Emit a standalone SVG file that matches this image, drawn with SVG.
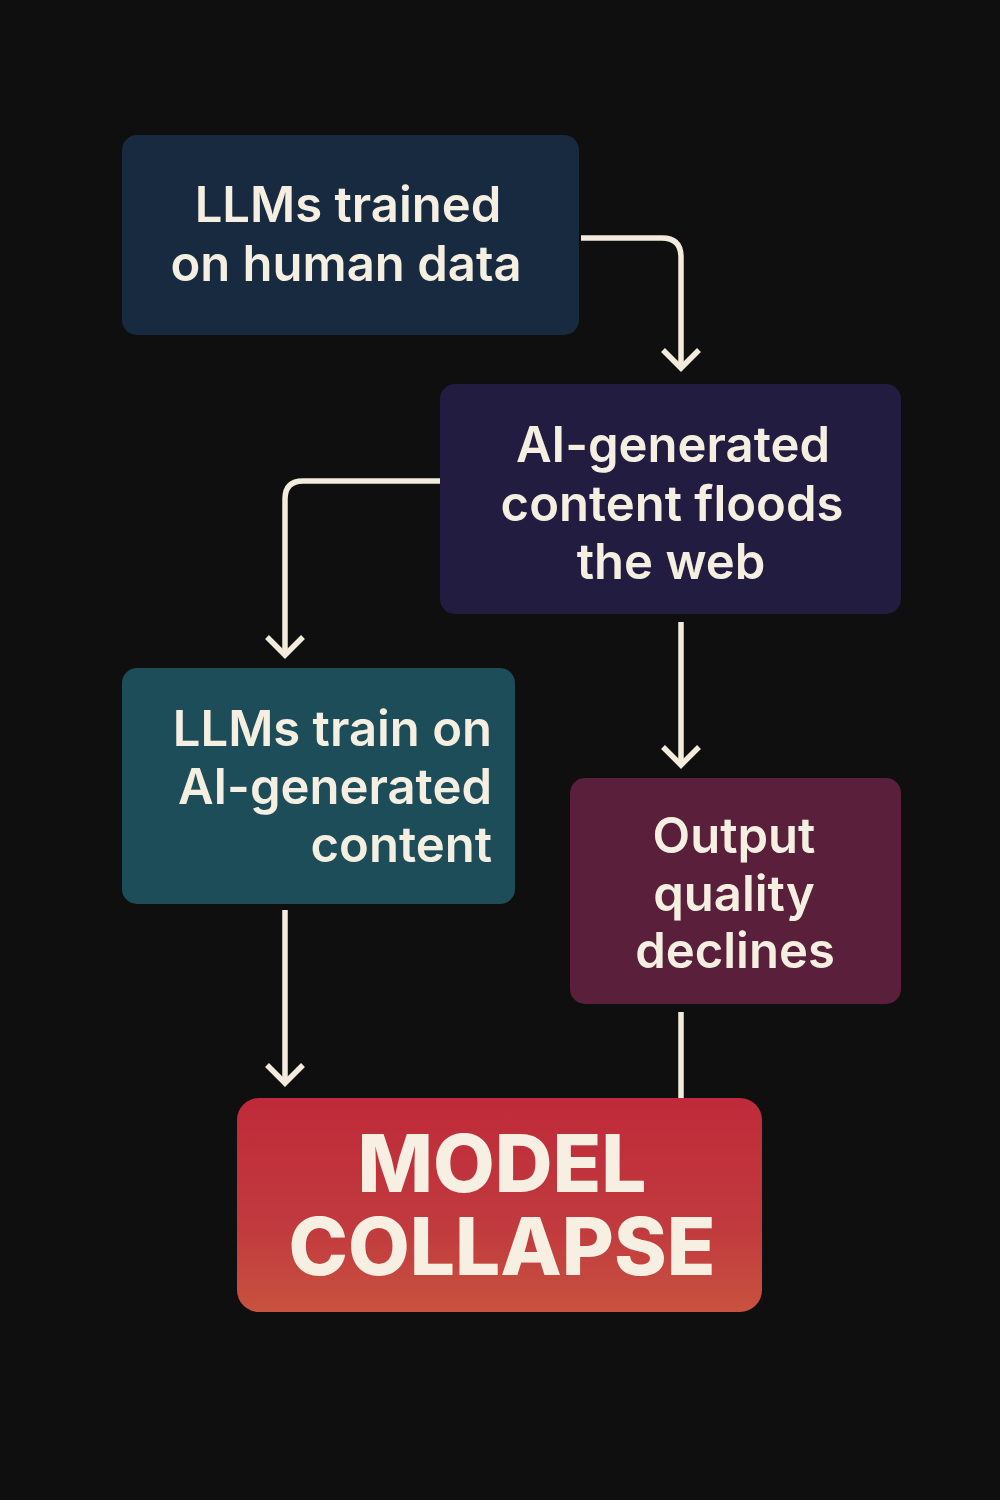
<svg xmlns="http://www.w3.org/2000/svg" width="1000" height="1500" viewBox="0 0 1000 1500">
<defs>
<linearGradient id="red" x1="0" y1="0" x2="0" y2="1">
<stop offset="0" stop-color="#bf2a3a"/>
<stop offset="0.6" stop-color="#c13a3e"/>
<stop offset="1" stop-color="#c8523f"/>
</linearGradient>
<style>
.t{font-family:Inter,"Noto Sans","Liberation Sans",sans-serif;font-weight:600;font-size:49px;fill:#f5efe1}
.big{font-family:Inter,"Liberation Sans",sans-serif;font-weight:800;font-size:80px;fill:#f7f0e2}
.c{fill:none;stroke:#f3ecdc;stroke-width:5.5;stroke-linecap:butt;stroke-linejoin:miter}
</style>
</defs>
<rect width="1000" height="1500" fill="#0f0f0f"/>
<g id="connectors">
<path class="c" d="M581 238 H662 Q681 238 681 257 V368"/>
<path class="c" d="M663 350 L681 368 L699 350"/>
<path class="c" d="M440 481 H303 Q285 481 285 499 V655"/>
<path class="c" d="M267 637 L285 655 L303 637"/>
<path class="c" d="M681 622 V765"/>
<path class="c" d="M663 747 L681 765 L699 747"/>
<path class="c" d="M285 910 V1083"/>
<path class="c" d="M267 1065 L285 1083 L303 1065"/>
<path class="c" d="M681 1012 V1098"/>
</g>
<g id="n1">
<rect x="122" y="135" width="457" height="200" rx="15" fill="#172a40"/>
<text class="t" text-anchor="middle"><tspan x="348" y="222">LLMs trained</tspan><tspan x="346" y="281">on human data</tspan></text>
</g>
<g id="n2">
<rect x="440" y="384" width="461" height="230" rx="15" fill="#221c40"/>
<text class="t" text-anchor="middle"><tspan x="673" y="462">AI-generated</tspan><tspan x="672" y="521">content floods</tspan><tspan x="671" y="579">the web</tspan></text>
</g>
<g id="n3">
<rect x="122" y="668" width="393" height="236" rx="15" fill="#1c4d59"/>
<text class="t" text-anchor="end"><tspan x="492" y="746">LLMs train on</tspan><tspan x="492" y="804">AI-generated</tspan><tspan x="492" y="862">content</tspan></text>
</g>
<g id="n4">
<rect x="570" y="778" width="331" height="226" rx="15" fill="#591f3b"/>
<text class="t" text-anchor="middle"><tspan x="734" y="853">Output</tspan><tspan x="734" y="911">quality</tspan><tspan x="735" y="968">declines</tspan></text>
</g>
<g id="n5">
<rect x="237" y="1098" width="525" height="214" rx="22" fill="url(#red)"/>
<text class="big" text-anchor="middle"><tspan x="502" y="1192">MODEL</tspan><tspan x="502" y="1275">COLLAPSE</tspan></text>
</g>
</svg>
